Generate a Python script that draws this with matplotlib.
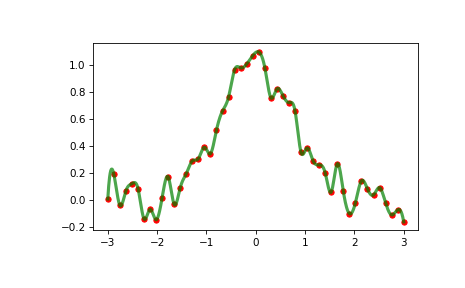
import numpy as np
import matplotlib
matplotlib.use('Agg')
import matplotlib.pyplot as plt

# sample points
x = np.linspace(-3, 3, 50)
y = [0.007, 0.19, -0.04, 0.067, 0.12, 0.084, -0.14, -0.07, -0.146, 0.017,
     0.17, -0.033, 0.091, 0.195, 0.289, 0.306, 0.39, 0.343, 0.518, 0.659,
     0.763, 0.965, 0.978, 1.007, 1.069, 1.096, 0.98, 0.758, 0.822, 0.773,
     0.721, 0.661, 0.353, 0.385, 0.289, 0.259, 0.2, 0.059, 0.267, 0.064,
     -0.101, -0.022, 0.141, 0.081, 0.037, 0.091, -0.022, -0.111, -0.074, -0.163]


def cubic_spline(xk, yk, xs):
    # interpolating cubic spline, not-a-knot ends (same as s=0 UnivariateSpline)
    xk = np.asarray(xk, float)
    yk = np.asarray(yk, float)
    n = len(xk)
    h = np.diff(xk)
    A = np.zeros((n, n))
    b = np.zeros(n)
    for i in range(1, n - 1):
        A[i, i - 1] = h[i - 1]
        A[i, i] = 2 * (h[i - 1] + h[i])
        A[i, i + 1] = h[i]
        b[i] = 6 * ((yk[i + 1] - yk[i]) / h[i] - (yk[i] - yk[i - 1]) / h[i - 1])
    A[0, 0], A[0, 1], A[0, 2] = h[1], -(h[0] + h[1]), h[0]
    A[-1, -3], A[-1, -2], A[-1, -1] = h[-1], -(h[-2] + h[-1]), h[-2]
    M = np.linalg.solve(A, b)
    j = np.clip(np.searchsorted(xk, xs) - 1, 0, n - 2)
    hj = h[j]
    a = xk[j + 1] - xs
    c = xs - xk[j]
    return (M[j] * a ** 3 / (6 * hj) + M[j + 1] * c ** 3 / (6 * hj)
            + (yk[j] / hj - M[j] * hj / 6) * a + (yk[j + 1] / hj - M[j + 1] * hj / 6) * c)


xs = np.linspace(-3, 3, 1000)

fig = plt.figure(figsize=(6.2, 3.84), dpi=75)
ax = fig.add_axes([0.2, 0.2, 0.7, 0.65])
ax.plot(x, y, 'ro', ms=5)
ax.plot(xs, cubic_spline(x, y, xs), 'g', lw=3, alpha=0.7)

fig.savefig('out.png', dpi=75)
